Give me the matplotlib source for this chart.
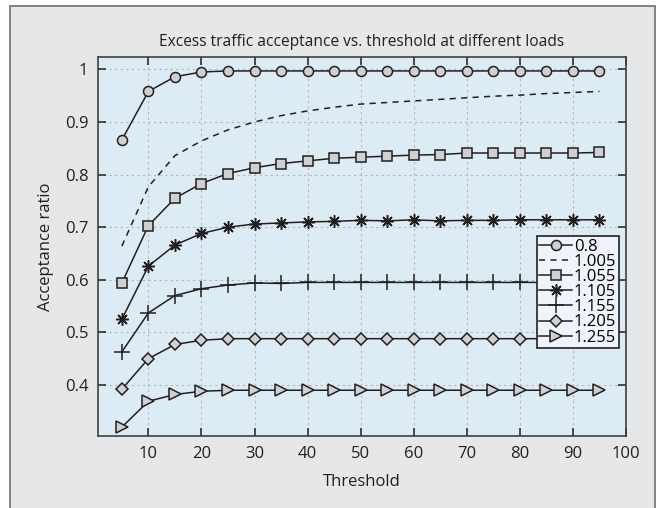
import matplotlib.pyplot as plt
from matplotlib.patches import Rectangle

plt.rcParams['font.family'] = ['Open Sans', 'DejaVu Sans']

threshold = list(range(5, 100, 5))

load_labels = ['0.8', '1.005', '1.055', '1.105', '1.155', '1.205', '1.255']

acc_080 = [0.866, 0.958, 0.986, 0.995, 0.997, 0.997, 0.997, 0.997, 0.997, 0.997,
           0.997, 0.997, 0.997, 0.997, 0.997, 0.997, 0.997, 0.997, 0.997]
acc_1005 = [0.664, 0.777, 0.836, 0.864, 0.885, 0.900, 0.912, 0.921, 0.928, 0.934,
            0.937, 0.940, 0.943, 0.946, 0.949, 0.951, 0.954, 0.956, 0.958]
acc_1055 = [0.594, 0.703, 0.755, 0.783, 0.802, 0.813, 0.821, 0.826, 0.831, 0.833,
            0.835, 0.837, 0.838, 0.841, 0.841, 0.841, 0.841, 0.841, 0.842]
acc_1105 = [0.525, 0.626, 0.666, 0.688, 0.700, 0.706, 0.708, 0.710, 0.711, 0.713,
            0.712, 0.714, 0.712, 0.713, 0.713, 0.714, 0.714, 0.714, 0.714]
acc_1155 = [0.463, 0.537, 0.570, 0.583, 0.590, 0.594, 0.593, 0.595, 0.595, 0.595,
            0.595, 0.595, 0.595, 0.595, 0.595, 0.595, 0.595, 0.595, 0.595]
acc_1205 = [0.392, 0.450, 0.477, 0.485, 0.488, 0.488, 0.488, 0.488, 0.488, 0.488,
            0.488, 0.488, 0.488, 0.488, 0.488, 0.488, 0.488, 0.488, 0.488]
acc_1255 = [0.320, 0.369, 0.382, 0.388, 0.390, 0.390, 0.390, 0.390, 0.390, 0.390,
            0.390, 0.390, 0.390, 0.390, 0.390, 0.390, 0.390, 0.390, 0.390]

series = [acc_080, acc_1005, acc_1055, acc_1105, acc_1155, acc_1205, acc_1255]
# matlab style markers, None = dashed line
markers = ['o', None, 's', (8, 2, 0), '+', 'D', '>']
msizes = [7.2, 0, 6.8, 9, 11, 6.5, 8]

fig = plt.figure(figsize=(6.59, 5.08), dpi=100)
fig.patch.set_facecolor('white')
fig.patches.append(Rectangle((10 / 659, -0.01), 645 / 659, 1 - 6 / 508 + 0.01,
                             transform=fig.transFigure, facecolor='#e6e7e8',
                             edgecolor='#6d6e70', linewidth=1.2, zorder=-10))

ax = fig.add_axes([98 / 659, 1 - 436 / 508, 528 / 659, 379 / 508])
ax.set_facecolor('#ddebf5')

line_col = '#231f20'
for vals, lab, m, ms in zip(series, load_labels, markers, msizes):
    if m is None:
        ax.plot(threshold, vals, linestyle=(0, (4, 3.5)), color=line_col,
                linewidth=1.1, label=lab)
    elif m == '+' or isinstance(m, tuple):
        ax.plot(threshold, vals, marker=m, markersize=ms, color=line_col,
                linewidth=1.1, markeredgewidth=1.1, label=lab)
    else:
        ax.plot(threshold, vals, marker=m, markersize=ms, color=line_col,
                markerfacecolor='#cfd0d2', markeredgecolor=line_col,
                linewidth=1.1, markeredgewidth=1.1, label=lab)

ax.set_xlim(0.5, 100)
ax.set_ylim(0.303, 1.0235)
ax.set_xticks(range(10, 101, 10))
ax.set_yticks([0.4, 0.5, 0.6, 0.7, 0.8, 0.9, 1.0])
ax.set_yticklabels(['0.4', '0.5', '0.6', '0.7', '0.8', '0.9', '1'])
ax.tick_params(direction='in', top=True, right=True, length=6, width=1.1,
               labelsize=12, colors=line_col, pad=7)
ax.grid(True, linestyle=(0, (2, 3)), color='#b5b5b5', linewidth=0.8)
for s in ax.spines.values():
    s.set_color('#404040')
    s.set_linewidth(1.2)

ax.set_title('Excess traffic acceptance vs. threshold at different loads',
             fontsize=11.2, color=line_col, pad=8)
ax.set_xlabel('Threshold', fontsize=12, color=line_col, labelpad=9)
ax.set_ylabel('Acceptance ratio', fontsize=12, color=line_col, labelpad=8)

leg = ax.legend(loc='upper right', bbox_to_anchor=(619 / 659, 1 - 236 / 508),
                bbox_transform=fig.transFigure, fontsize=12, labelspacing=-0.05,
                handlelength=2.0, handletextpad=0.1, borderpad=0.15,
                borderaxespad=0, fancybox=False, framealpha=1)
leg.get_frame().set_facecolor('#eef4fa')
leg.get_frame().set_edgecolor(line_col)
leg.get_frame().set_linewidth(1.2)

fig.savefig('out.png', dpi=100, facecolor=fig.get_facecolor())
